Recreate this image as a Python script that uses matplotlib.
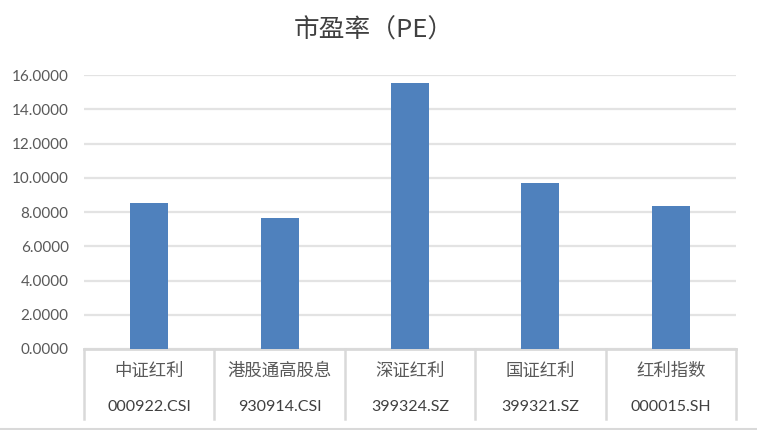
import numpy as np
import matplotlib.pyplot as plt

plt.rcParams['font.family'] = ['Noto Sans CJK SC', 'DejaVu Sans']

names = ['中证红利', '港股通高股息', '深证红利', '国证红利', '红利指数']
codes = ['000922.CSI', '930914.CSI', '399324.SZ', '399321.SZ', '000015.SH']
pe = [8.52, 7.65, 15.53, 9.69, 8.34]
yticks = [0, 2, 4, 6, 8, 10, 12, 14, 16]

W, H = 757, 430
fig = plt.figure(figsize=(W / 100, H / 100), dpi=100)
# plot area in pixels: left 84, right 736, top 75, bottom 349
ax = fig.add_axes([84 / W, (H - 349) / H, (736 - 84) / W, (349 - 75) / H])

x = np.arange(len(names))
ax.bar(x, pe, width=0.29, color='#4F81BD', zorder=3)

ax.set_xlim(-0.5, len(names) - 0.5)
ax.set_ylim(0, 16)
ax.set_yticks(yticks)
ax.set_yticklabels(['%.4f' % v for v in yticks], color='#595959', fontsize=11,
                   family=['Lato', 'DejaVu Sans'])
ax.tick_params(axis='y', length=0, pad=11)
ax.set_xticks([])
ax.grid(axis='y', color='#E3E3E3', linewidth=1.6, zorder=0)
for s in ['top', 'right', 'left']:
    ax.spines[s].set_visible(False)
ax.spines['bottom'].set_color('#D9D9D9')
ax.spines['bottom'].set_linewidth(2)

# category table below the axis
trans = ax.get_xaxis_transform()
depth = -70 / 274
for b in np.arange(-0.5, len(names), 1.0):
    ax.plot([b, b], [0, depth], transform=trans, color='#D9D9D9', lw=1.8,
            clip_on=False)
for i in range(len(names)):
    ax.text(x[i], -22 / 274, names[i], transform=trans, ha='center', va='center',
            fontsize=12.5, color='#595959')
    ax.text(x[i], -58 / 274, codes[i], transform=trans, ha='center', va='center',
            fontsize=11.5, color='#404040', family=['Lato', 'DejaVu Sans'])

# chart border at the bottom
fig.add_artist(plt.Line2D([0, 1], [1.5 / H, 1.5 / H], color='#D9D9D9', lw=1.5))

fig.text(374 / W, 1 - 31 / H, '市盈率（PE）', ha='center', va='center',
         fontsize=18.5, fontweight='medium', color='#404040')

fig.savefig('out.png', dpi=100)
